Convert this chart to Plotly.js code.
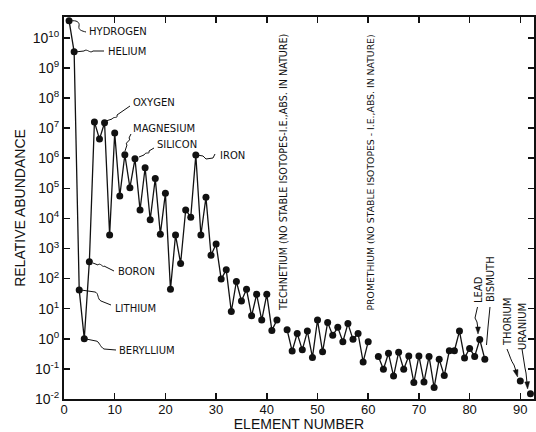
<!DOCTYPE html>
<html><head><meta charset="utf-8">
<script src="https://cdn.plot.ly/plotly-3.0.1.min.js"></script>
<style>body{margin:0;background:#fff}</style>
</head><body><div id="chart" style="width:536px;height:432px"></div>
<script>
const elementNumber = [1,2,3,4,5,6,7,8,9,10,11,12,13,14,15,16,17,18,19,20,21,22,23,24,25,26,27,28,29,30,31,32,33,34,35,36,37,38,39,40,41,42,43,44,45,46,47,48,49,50,51,52,53,54,55,56,57,58,59,60,61,62,63,64,65,66,67,68,69,70,71,72,73,74,75,76,77,78,79,80,81,82,83,84,85,86,87,88,89,90,91,92];
const abundance = [3.7e10,3.4e9,42,1.0,360,1.6e7,4.3e6,1.5e7,2.8e3,6.8e6,
  5.5e4,1.3e6,1.05e5,9.5e5,1.9e4,4.8e5,9e3,2.1e5,3.0e3,6.8e4,
  44,2.8e3,320,1.9e4,1.1e4,1.28e6,2.8e3,5.0e4,600,1.4e3,
  96,195,8,80,18,44,5.8,30,4.2,30,
  1.9,4.2,null,2.0,0.39,1.5,0.43,1.8,0.24,4.2,
  0.37,3.5,1.3,2.4,0.8,3.2,0.96,1.5,0.17,0.8,
  null,0.26,0.097,0.33,0.058,0.36,0.097,0.27,0.035,0.27,
  0.037,0.26,0.024,0.21,0.06,0.40,0.40,1.8,0.23,0.48,
  0.26,0.95,0.21,null,null,null,null,null,null,0.04,
  null,0.015];
const xTickVals = [0,10,20,30,40,50,60,70,80,90];
const yTickVals = [1e-2,1e-1,1e0,1e1,1e2,1e3,1e4,1e5,1e6,1e7,1e8,1e9,1e10];
const yTickText = ['10<sup>-2</sup>','10<sup>-1</sup>','10<sup>0</sup>','10<sup>1</sup>','10<sup>2</sup>','10<sup>3</sup>','10<sup>4</sup>','10<sup>5</sup>','10<sup>6</sup>','10<sup>7</sup>','10<sup>8</sup>','10<sup>9</sup>','10<sup>10</sup>'];

// pixel -> paper helpers (plot area 64..534 x 17..399)
const L=64,R=534,T=17,B=399;
const px = x => (x-L)/(R-L);
const py = y => (B-y)/(B-T);
function pathPx(s){
  const out=[]; let isX=true;
  s.trim().split(/\s+/).forEach(t=>{
    if(/^[A-Za-z]$/.test(t)){out.push(t);}
    else {const n=parseFloat(t); out.push((isX?px(n):py(n)).toFixed(5)); isX=!isX;}
  });
  return out.join(' ');
}
const leaders = [
  'M 71 21 C 76 20 80 22 79 26 C 78 30 82 31 86 32',
  'M 75 52 L 84 51 C 87 48 90 54 93 51 L 104 51',
  'M 106 121 L 112 119 C 114 116 118 119 117 115 L 130 106',
  'M 125 151 L 127 145 C 124 142 132 141 129 138 L 131 134',
  'M 139 157 L 144 155 C 146 151 150 155 149 151 L 154 148',
  'M 197 155 L 203 156 L 206 159 L 213 158 L 215 154',
  'M 93 263 L 98 265 C 100 262 103 268 104 266 L 114 271',
  'M 81 290 L 95 292 C 99 293 97 299 101 301 L 111 305',
  'M 86 339 L 96 341 C 99 341 100 347 104 349 L 116 350',
  'M 477.5 307 L 475 318 L 477 322 L 478 329',
  'M 490 307 L 488 327 L 486.5 345',
  'M 507 349 C 510 356 511 361 514 365 L 516 371',
  'M 522 349 L 525 368 L 526 373 L 527 383'
];
const heads = [
  'M 478 334 L 475.6 327 L 480.4 327 Z',
  'M 517.6 377 L 513.2 370.5 L 518 369.5 Z',
  'M 527.6 389 L 524.8 382 L 529.6 381.6 Z'
];
const shapes = leaders.map(p=>({type:'path',xref:'paper',yref:'paper',path:pathPx(p),line:{color:'#111',width:1}}))
  .concat(heads.map(p=>({type:'path',xref:'paper',yref:'paper',path:pathPx(p),line:{color:'#111',width:0.5},fillcolor:'#111'})));

const hLabels = [
  ['HYDROGEN',87,32],['HELIUM',106,51],['OXYGEN',131,103],['MAGNESIUM',131,128],
  ['SILICON',155,144],['IRON',218,155],['BORON',116,271],['LITHIUM',113,308],['BERYLLIUM',117,350]
];
const vLabels = [
  ['TECHNETIUM (NO STABLE ISOTOPES-I.E.,ABS. IN NATURE)',283,173,9.6],
  ['PROMETHIUM (NO STABLE ISOTOPES - I.E.,ABS. IN NATURE)',369.5,173,9.3],
  ['LEAD',478,290,10],['BISMUTH',490,279,10],['THORIUM',507,322,10],['URANIUM',522,327,10]
];
const annFont = {family:'DejaVu Sans, sans-serif',size:10,color:'#111'};
const annotations = hLabels.map(([t,x,y])=>({text:t,xref:'paper',yref:'paper',x:px(x),y:py(y),xanchor:'left',yanchor:'middle',showarrow:false,font:annFont}))
  .concat(vLabels.map(([t,x,y,s])=>({text:t,xref:'paper',yref:'paper',x:px(x),y:py(y),xanchor:'center',yanchor:'middle',textangle:-90,showarrow:false,font:{family:'DejaVu Sans, sans-serif',size:s,color:'#111'}})));

const trace = {
  x: elementNumber, y: abundance, type:'scatter', mode:'lines+markers',
  connectgaps:false, cliponaxis:false,
  line:{color:'#111',width:1.3}, marker:{color:'#111',size:7}
};
const layout = {
  width:536, height:432, showlegend:false,
  paper_bgcolor:'#fff', plot_bgcolor:'#fff',
  margin:{l:64,r:2,t:17,b:33,pad:0},
  font:{family:'Liberation Sans, Arial, sans-serif',color:'#111'},
  xaxis:{range:[0,92.7],tickvals:xTickVals,ticks:'inside',ticklen:6,tickwidth:1.5,tickcolor:'#111',
    showline:true,linewidth:2,linecolor:'#111',mirror:'ticks',showgrid:false,zeroline:false,
    tickfont:{size:13},automargin:false,ticklabelstandoff:-3,
    title:{text:'ELEMENT NUMBER',font:{size:14},standoff:5}},
  yaxis:{type:'log',range:[-2,10.69],tickvals:yTickVals,ticktext:yTickText,ticks:'inside',ticklen:6,tickwidth:1.5,tickcolor:'#111',
    showline:true,linewidth:2,linecolor:'#111',mirror:'ticks',showgrid:false,zeroline:false,
    tickfont:{size:14},automargin:false,
    title:{text:'RELATIVE ABUNDANCE',font:{size:14},standoff:4}},
  shapes:shapes, annotations:annotations
};
Plotly.newPlot('chart',[trace],layout,{staticPlot:true,displayModeBar:false});
</script></body></html>
